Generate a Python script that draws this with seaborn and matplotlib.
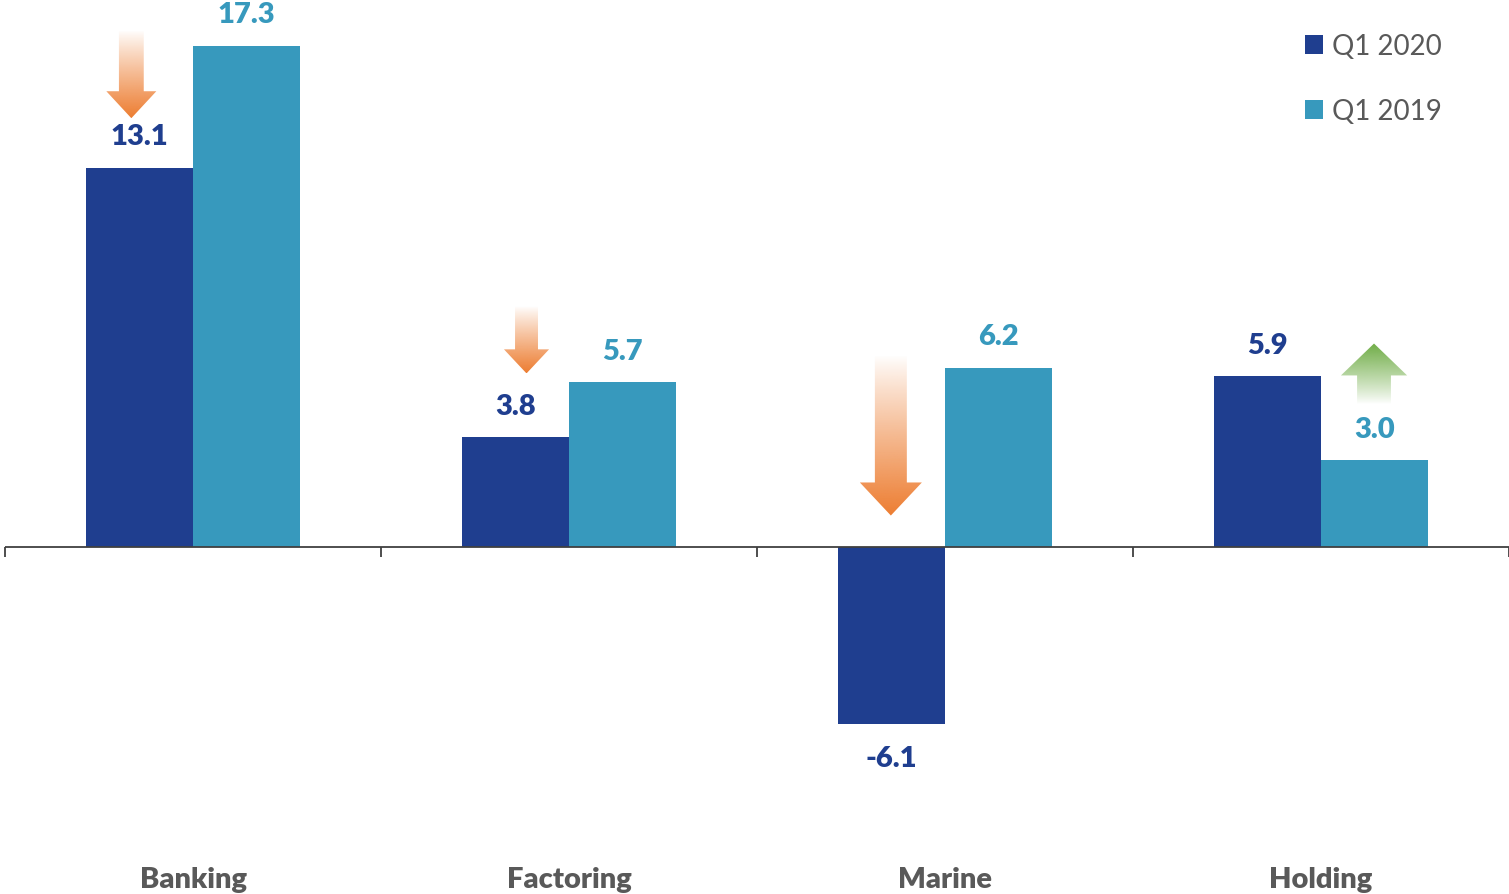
import numpy as np
import pandas as pd
import matplotlib.pyplot as plt
import seaborn as sns
from matplotlib.patches import Polygon, Patch

# data
segments = ['Banking', 'Factoring', 'Marine', 'Holding']
periods = ['Q1 2020', 'Q1 2019']
q1_2020 = [13.1, 3.8, -6.1, 5.9]
q1_2019 = [17.3, 5.7, 6.2, 3.0]

colors = ['#1F3E8F', '#3799BD']
text_grey = '#595959'

# arrows: (x centre, tail y, tip y, shaft width, head width, head length, colour)
arrows = [
    (-0.164, 17.8, 14.8, 0.066, 0.133, 0.93, '#ED7D31'),
    (0.887, 8.3, 6.0, 0.061, 0.120, 0.83, '#ED7D31'),
    (1.856, 6.65, 1.1, 0.085, 0.165, 1.14, '#ED7D31'),
    (3.141, 4.95, 7.03, 0.090, 0.176, 1.10, '#70AD47'),
]

df = pd.DataFrame({
    'segment': segments * 2,
    'period': [periods[0]] * 4 + [periods[1]] * 4,
    'value': q1_2020 + q1_2019,
})

sns.set_style('white')
plt.rcParams['font.family'] = ['Lato', 'DejaVu Sans']

fig = plt.figure(figsize=(15.09, 8.95), dpi=100)
ax = fig.add_axes([5 / 1509, 0, 1504 / 1509, 1])

sns.barplot(data=df, x='segment', y='value', hue='period', hue_order=periods,
            palette=colors, width=0.57, gap=0, saturation=1, errorbar=None,
            linewidth=0, legend=False, ax=ax)

ylims = (-11.95, 18.91)
ax.set_xlim(-0.5, 3.5)
ax.set_ylim(*ylims)
for s in ax.spines.values():
    s.set_visible(False)
ax.set_xticks([])
ax.set_yticks([])
ax.set_xlabel('')
ax.set_ylabel('')

# zero line with category separators
ax.axhline(0, color='#404040', lw=1.3, zorder=3)
ax.vlines(np.arange(-0.5, 4, 1), -0.34, 0, color='#404040', lw=1.3, clip_on=False, zorder=3)

# value labels
for cont, col in zip(ax.containers, colors):
    for bar in cont:
        h = bar.get_height()
        xc = bar.get_x() + bar.get_width() / 2
        off = 22.5 if h >= 0 else -24
        ax.annotate(f'{h:.1f}', (xc, h), xytext=(0, off), textcoords='offset points',
                    ha='center', va='center', fontsize=21, fontweight='heavy', color=col)

# category labels
for i, name in enumerate(segments):
    ax.text(i, 0.017, name, transform=ax.get_xaxis_transform(), ha='center', va='center',
            fontsize=21, fontweight='heavy', color=text_grey)

# gradient arrows
def grad_arrow(x, y0, y1, sw, hw, hl, col):
    d = 1 if y1 > y0 else -1
    yb = y1 - d * hl
    pts = [(x - sw / 2, y0), (x - sw / 2, yb), (x - hw / 2, yb), (x, y1),
           (x + hw / 2, yb), (x + sw / 2, yb), (x + sw / 2, y0)]
    poly = Polygon(pts, closed=True, facecolor='none', edgecolor='none')
    ax.add_patch(poly)
    rgb = np.array(plt.matplotlib.colors.to_rgb(col))
    n = 256
    t = np.linspace(0, 1, n)  # 0 at tail, 1 at tip
    img = np.ones((n, 1, 4))
    img[:, 0, :3] = rgb
    img[:, 0, 3] = t ** 0.9
    lo, hi = min(y0, y1), max(y0, y1)
    if y1 < y0:
        img = img[::-1]
    im = ax.imshow(img, extent=(x - hw / 2, x + hw / 2, lo, hi), origin='lower',
                   aspect='auto', zorder=4, interpolation='bilinear')
    im.set_clip_path(poly)

for a in arrows:
    grad_arrow(*a)

ax.set_xlim(-0.5, 3.5)
ax.set_ylim(*ylims)

handles = [Patch(facecolor=c, edgecolor='none') for c in colors]
fig.legend(handles, periods, loc='upper left', bbox_to_anchor=(1305 / 1509, 1 - 34 / 895),
           frameon=False, fontsize=20, handlelength=0.65, handleheight=0.65,
           handletextpad=0.32, labelspacing=1.42, borderpad=0, borderaxespad=0,
           labelcolor=text_grey)

fig.savefig('out.png', dpi=100)
